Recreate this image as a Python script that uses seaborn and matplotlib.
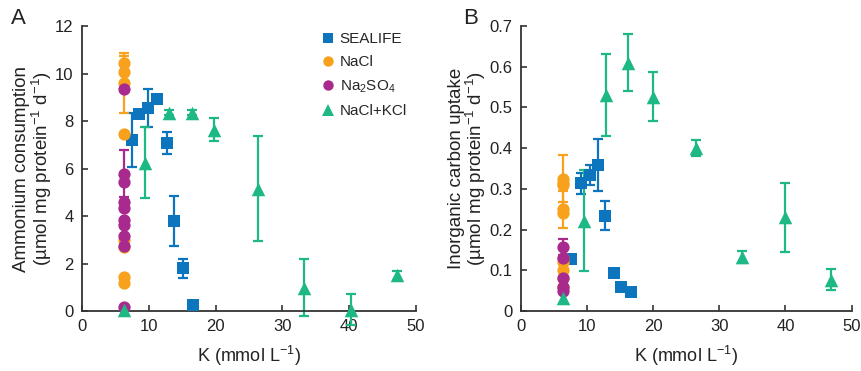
import numpy as np
import pandas as pd
import matplotlib
matplotlib.use("Agg")
import matplotlib.pyplot as plt
import seaborn as sns
from matplotlib.ticker import FuncFormatter
from matplotlib.lines import Line2D

sns.set_theme(style="ticks")
plt.rcParams['font.family'] = ['Liberation Sans', 'DejaVu Sans']
plt.rcParams['mathtext.fontset'] = 'custom'
plt.rcParams['mathtext.rm'] = 'Liberation Sans'
plt.rcParams['mathtext.it'] = 'Liberation Sans'

groups = ["SEALIFE", "NaCl", "Na$_2$SO$_4$", "NaCl+KCl"]
colors = ["#0D74BE", "#F7A11C", "#A92A8E", "#1DB886"]
markers = ["s", "o", "o", "^"]

# ---------------- Panel A: ammonium consumption ----------------
a_sea_k = [7.5, 8.6, 9.9, 11.2, 12.7, 13.8, 15.1, 16.6]
a_sea_v = [7.2, 8.3, 8.55, 8.92, 7.08, 3.8, 1.8, 0.25]
a_sea_e = [1.15, 0.0, 0.8, 0.0, 0.46, 1.05, 0.4, 0.0]

a_nacl_k = [6.3, 6.3, 6.3, 6.3, 6.3, 6.3, 6.3, 6.3]
a_nacl_v = [10.45, 10.05, 9.6, 7.45, 3.0, 2.7, 1.45, 1.2]
a_nacl_e = [0.3, 0.0, 1.25, 0.0, 0.0, 0.0, 0.0, 0.0]

a_naso_k = [6.3, 6.3, 6.3, 6.3, 6.3, 6.3, 6.3, 6.3, 6.3, 6.3]
a_naso_v = [9.35, 5.78, 5.43, 4.61, 4.33, 3.84, 3.63, 3.16, 2.75, 0.15]
a_naso_e = [0.0, 1.0, 0.0, 0.0, 0.0, 0.0, 0.0, 0.0, 0.0, 0.0]

a_kcl_k = [6.3, 9.5, 13.1, 16.4, 19.8, 26.4, 33.2, 40.2, 47.1]
a_kcl_v = [0.05, 6.25, 8.35, 8.35, 7.64, 5.15, 0.98, 0.05, 1.5]
a_kcl_e = [0.0, 1.5, 0.1, 0.1, 0.5, 2.2, 1.2, 0.65, 0.2]

# ---------------- Panel B: inorganic carbon uptake ----------------
b_sea_k = [7.6, 9.1, 10.4, 11.6, 12.65, 14.0, 15.2, 16.7]
b_sea_v = [0.128, 0.314, 0.334, 0.359, 0.234, 0.093, 0.06, 0.047]
b_sea_e = [0.0, 0.026, 0.025, 0.064, 0.035, 0.0, 0.0, 0.0]

b_nacl_k = [6.3, 6.3, 6.3, 6.3, 6.3, 6.3, 6.3, 6.3, 6.3, 6.3]
b_nacl_v = [0.325, 0.315, 0.31, 0.25, 0.24, 0.13, 0.12, 0.10, 0.08, 0.06]
b_nacl_e = [0.057, 0.0, 0.0, 0.045, 0.0, 0.0, 0.0, 0.0, 0.0, 0.0]

b_naso_k = [6.3, 6.3, 6.3, 6.3, 6.3]
b_naso_v = [0.158, 0.13, 0.08, 0.06, 0.05]
b_naso_e = [0.02, 0.0, 0.0, 0.0, 0.0]

b_kcl_k = [6.3, 9.6, 12.9, 16.2, 20.0, 26.4, 33.4, 40.0, 46.9]
b_kcl_v = [0.033, 0.222, 0.531, 0.61, 0.526, 0.40, 0.133, 0.23, 0.077]
b_kcl_e = [0.0, 0.124, 0.1, 0.07, 0.06, 0.02, 0.015, 0.085, 0.025]

x_ticks = [0, 10, 20, 30, 40, 50]
a_yticks = [0, 2, 4, 6, 8, 10, 12]
b_yticks = [0, 0.1, 0.2, 0.3, 0.4, 0.5, 0.6, 0.7]


def make_df(series):
    frames = []
    for g, (k, v, e) in zip(groups, series):
        frames.append(pd.DataFrame({"K": k, "val": v, "err": e, "group": g}))
    return pd.concat(frames, ignore_index=True)


dfA = make_df([(a_sea_k, a_sea_v, a_sea_e), (a_nacl_k, a_nacl_v, a_nacl_e),
               (a_naso_k, a_naso_v, a_naso_e), (a_kcl_k, a_kcl_v, a_kcl_e)])
dfB = make_df([(b_sea_k, b_sea_v, b_sea_e), (b_nacl_k, b_nacl_v, b_nacl_e),
               (b_naso_k, b_naso_v, b_naso_e), (b_kcl_k, b_kcl_v, b_kcl_e)])

fig = plt.figure(figsize=(8.62, 3.71), dpi=100)
axA = fig.add_axes([0.0951, 0.1617, 0.3875, 0.7682])
axB = fig.add_axes([0.6044, 0.1617, 0.3835, 0.7682])

sizes = {"s": 68, "o": 78, "^": 95}
palette = dict(zip(groups, colors))
mk = dict(zip(groups, markers))


def draw(ax, df, yticks, ylabel):
    for g in groups:
        sub = df[(df.group == g) & (df.err > 0)]
        if len(sub):
            ax.errorbar(sub.K, sub.val, yerr=sub.err, fmt="none", ecolor=palette[g],
                        elinewidth=1.6, capsize=3.5, capthick=1.6, clip_on=False, zorder=2)
        sub2 = df[df.group == g]
        sns.scatterplot(data=sub2, x="K", y="val", color=palette[g], marker=mk[g],
                        s=sizes[mk[g]], linewidth=0, ax=ax, clip_on=False, zorder=3,
                        legend=False)
    ax.set_xlim(0, 50)
    ax.set_ylim(yticks[0], yticks[-1])
    ax.set_xticks(x_ticks)
    ax.set_yticks(yticks)
    ax.yaxis.set_major_formatter(FuncFormatter(lambda v, p: f"{v:g}"))
    ax.tick_params(direction="in", length=4, width=1.1, labelsize=12,
                   colors="#222222", pad=6)
    for s in ["top", "right"]:
        ax.spines[s].set_visible(False)
    for s in ["left", "bottom"]:
        ax.spines[s].set_linewidth(1.3)
        ax.spines[s].set_color("#333333")
    ax.set_xlabel("K (mmol L$^{-1}$)", fontsize=13, color="#222222", labelpad=7)
    ax.set_ylabel(ylabel, fontsize=13.5, color="#222222", linespacing=0.95, labelpad=1)


draw(axA, dfA, a_yticks, "Ammonium consumption\n(µmol mg protein$^{-1}$ d$^{-1}$)")
draw(axB, dfB, b_yticks, "Inorganic carbon uptake\n(µmol mg protein$^{-1}$ d$^{-1}$)")

handles = [Line2D([0], [0], marker=m, color=c, linestyle="none", markersize=7.5 if m != "^" else 9,
                  markeredgewidth=0) for m, c in zip(markers, colors)]
axA.legend(handles, groups, loc="upper left", bbox_to_anchor=(0.685, 1.0), frameon=False,
           fontsize=11, handletextpad=0.1, handlelength=1.4, labelspacing=0.6, borderaxespad=0)

fig.text(0.013, 0.978, "A", fontsize=16, va="top", ha="left", color="#222222")
fig.text(0.537, 0.978, "B", fontsize=16, va="top", ha="left", color="#222222")

fig.savefig("out.png", dpi=100)
